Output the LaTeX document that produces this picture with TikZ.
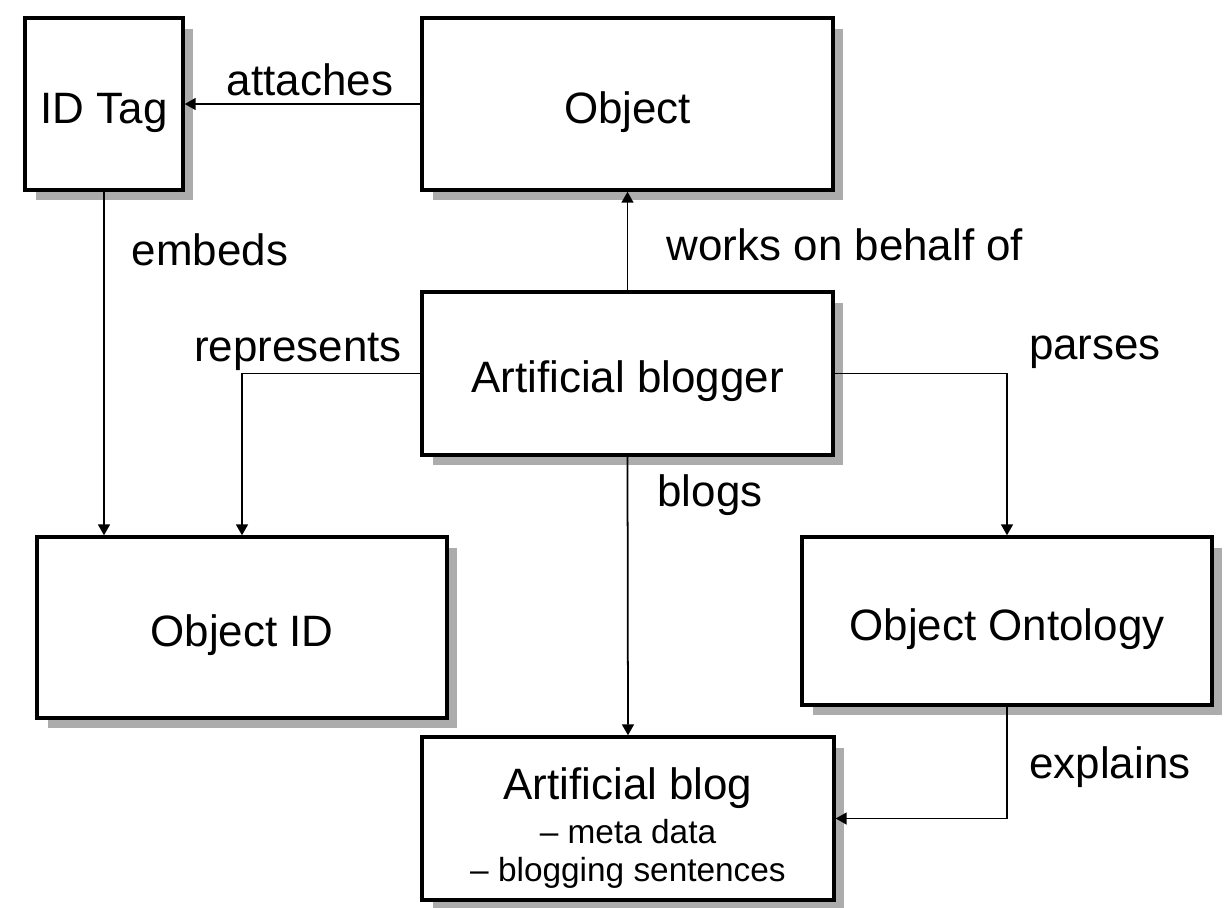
\documentclass[tikz,border=0pt]{standalone}
\usepackage{fontspec}
\setmainfont{Liberation Sans}
\usetikzlibrary{arrows.meta,shadows}
\tikzset{
    box/.style={draw, line width=2pt, fill=white, rectangle, inner sep=0pt,
        drop shadow={shadow xshift=0.21cm, shadow yshift=-0.21cm, fill=gray!65, opacity=1},
        font=\fontsize{25}{30}\selectfont, text height=27pt, text depth=5pt},
    link/.style={line width=1pt, -{Triangle[length=0.22cm,width=0.24cm]}},
    lbl/.style={font=\fontsize{25}{30}\selectfont}
}
\begin{document}
\begin{tikzpicture}[x=0.02cm, y=-0.02cm]
    \useasboundingbox (0,0) rectangle (1225,907);
    % Boxes
    \node[box, minimum width=3.16cm, minimum height=3.44cm] (tag) at (104,104) {ID Tag};
    \node[box, minimum width=8.22cm, minimum height=3.44cm] (obj) at (627.5,104) {Object};
    \node[box, minimum width=8.22cm, minimum height=3.26cm] (blogger) at (627.5,373.5) {Artificial blogger};
    \node[box, minimum width=8.2cm, minimum height=3.62cm] (objid) at (242,627.5) {Object ID};
    \node[box, minimum width=8.2cm, minimum height=3.36cm] (onto) at (1007,621) {Object Ontology};
    \node[box, minimum width=8.24cm, minimum height=3.26cm] (blog) at (628,818.5) {};
    \node[align=center, inner sep=0pt, font=\fontsize{25}{30}\selectfont] (blogtxt) at (628,828)
        {Artificial blog\\[-5pt]{\fontsize{19}{21}\selectfont -- meta data}\\[-8.5pt]{\fontsize{19}{21}\selectfont -- blogging sentences}};
    % Connectors
    \draw[link] (obj.west) -- (tag.east);
    \draw[link] (blogger.north) -- (obj.south);
    \draw[link] (tag.south) -- (tag.south |- objid.north);
    \draw[link] (blogger.west) -| (objid.north);
    \draw[link] (blogger.east) -| (onto.north);
    \draw[link] (blogger.south) -- (blog.north);
    \draw[link] (onto.south) |- (blog.east);
    % Labels
    \node[lbl] (l-att) at (310,80) {attaches};
    \node[lbl] (l-wrk) at (845,245) {works on behalf of};
    \node[lbl] (l-emb) at (210,250) {embeds};
    \node[lbl] (l-rep) at (298,352) {represents};
    \node[lbl] (l-par) at (1095,352) {parses};
    \node[lbl] (l-blg) at (710,495) {blogs};
    \node[lbl] (l-exp) at (1110,767) {explains};
\end{tikzpicture}
\end{document}
